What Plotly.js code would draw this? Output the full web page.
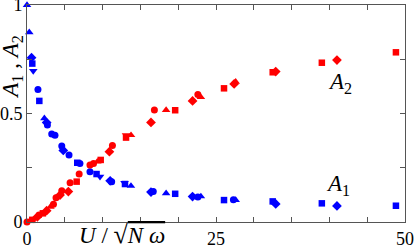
<!DOCTYPE html>
<html>
<head>
<meta charset="utf-8">
<script src="https://cdn.plot.ly/plotly-3.0.1.min.js"></script>
<style>html,body{margin:0;padding:0;background:#fff;}#chart{width:415px;height:248px;}</style>
</head>
<body>
<div id="chart"></div>
<script>
// A1 (blue) data, per marker set
const a1CircU = [1.45, 2.7, 3.27, 3.7, 4.6, 5.56, 7.0, 8.33, 11.2, 16.7, 22.6, 27.3];
const a1Circ  = [0.611, 0.447, 0.406, 0.400, 0.350, 0.309, 0.270, 0.232, 0.186, 0.140, 0.115, 0.102];
const a1SqU   = [0.7, 1.63, 6.65, 9.2, 12.96, 19.6, 26.06, 32.5, 39.0, 48.8];
const a1Sq    = [0.730, 0.558, 0.273, 0.221, 0.175, 0.130, 0.101, 0.095, 0.086, 0.075];
const a1TriU  = [0.0, 0.3, 2.3, 13.75, 18.4, 23.0, 27.6];
const a1Tri   = [1.000, 0.874, 0.478, 0.166, 0.132, 0.118, 0.101];
const a1DiaU  = [0.6, 2.6, 4.8, 11.0, 16.4, 21.9, 32.9, 41.0];
const a1Dia   = [0.757, 0.458, 0.330, 0.190, 0.138, 0.117, 0.083, 0.074];
const a1InvU  = [0.83, 9.66, 12.9];
const a1Inv   = [0.696, 0.209, 0.180];

// A2 (red) data, per marker set
const a2CircU = [0.0, 1.6, 3.5, 3.84, 4.6, 5.7, 6.9, 8.33, 8.8, 11.3, 16.85, 22.6];
const a2Circ  = [0.0, 0.032, 0.082, 0.112, 0.144, 0.181, 0.221, 0.263, 0.270, 0.352, 0.516, 0.588];
const a2SqU   = [0.7, 2.1, 6.57, 9.75, 13.1, 19.6, 26.06, 32.5, 39.0, 48.8];
const a2Sq    = [0.010, 0.040, 0.186, 0.286, 0.389, 0.515, 0.616, 0.690, 0.734, 0.782];
const a2TriU  = [0.4, 3.1, 9.3, 13.76, 18.4, 23.0, 27.6];
const a2Tri   = [0.006, 0.070, 0.278, 0.400, 0.516, 0.575, 0.646];
const a2DiaU  = [1.37, 2.6, 4.37, 5.47, 10.9, 16.4, 21.9, 27.4, 32.9, 41.0];
const a2Dia   = [0.024, 0.052, 0.124, 0.140, 0.324, 0.459, 0.558, 0.636, 0.693, 0.746];
const a2InvU  = [0.9, 13.1];
const a2Inv   = [0.012, 0.400];

const xTickVals = [0, 5, 10, 15, 20, 25, 30, 35, 40, 45, 50];
const xTickText = ['0', '', '', '', '', '25', '', '', '', '', '50'];
const yTickVals = [0, 0.25, 0.5, 0.75, 1];
const yTickText = ['0', '', '0.5', '', '1'];

const BLUE = '#0000ff', RED = '#ff0000';
function tr(x, y, color, symbol, size) {
  return {x: x, y: y, type: 'scatter', mode: 'markers', hoverinfo: 'skip', cliponaxis: false,
    marker: {color: color, symbol: symbol, size: size, line: {width: 0}}};
}
const data = [
  tr(a1CircU, a1Circ, BLUE, 'circle', 7),
  tr(a1SqU, a1Sq, BLUE, 'square', 6.5),
  tr(a1TriU, a1Tri, BLUE, 'triangle-up', 7.5),
  tr(a1DiaU, a1Dia, BLUE, 'diamond', 7.5),
  tr(a1InvU, a1Inv, BLUE, 'triangle-down', 7.5),
  tr(a2CircU, a2Circ, RED, 'circle', 7),
  tr(a2SqU, a2Sq, RED, 'square', 6.5),
  tr(a2TriU, a2Tri, RED, 'triangle-up', 7.5),
  tr(a2DiaU, a2Dia, RED, 'diamond', 7.5),
  tr(a2InvU, a2Inv, RED, 'triangle-down', 7.5)
];

const SERIF = 'Liberation Serif';
const axisCommon = {
  showgrid: false, zeroline: false, showline: true, linecolor: '#555', linewidth: 1,
  mirror: 'ticks', ticks: 'inside', ticklen: 5, tickcolor: '#555', tickwidth: 1,
  ticklabeloverflow: 'allow',
  tickmode: 'array', tickfont: {family: SERIF, size: 18, color: '#000'}
};
const layout = {
  width: 415, height: 248,
  margin: {l: 27, r: 10, t: 5, b: 26, pad: 0},
  paper_bgcolor: '#fff', plot_bgcolor: '#fff',
  showlegend: false,
  xaxis: Object.assign({}, axisCommon, {range: [0, 50], tickvals: xTickVals, ticktext: xTickText}),
  yaxis: Object.assign({}, axisCommon, {range: [0, 1], tickvals: yTickVals, ticktext: yTickText}),
  annotations: [
    {xref: 'x', yref: 'y', x: 41.4, y: 0.64, xanchor: 'center', yanchor: 'middle',
     text: '<i>A</i><sub>2</sub>', showarrow: false,
     font: {family: SERIF, size: 23, color: '#000'}},
    {xref: 'x', yref: 'y', x: 41.1, y: 0.17, xanchor: 'center', yanchor: 'middle',
     text: '<i>A</i><sub>1</sub>', showarrow: false,
     font: {family: SERIF, size: 23, color: '#000'}},
    {xref: 'paper', yref: 'paper', x: 0.25, y: -0.058, xanchor: 'center', yanchor: 'middle',
     text: "<i>U</i> / <span style='font-size:26px'>√</span><span style='text-decoration:overline'><i>N ω</i></span>",
     showarrow: false, font: {family: SERIF, size: 23, color: '#000'}},
    {xref: 'paper', yref: 'paper', x: -0.04, y: 0.715, xanchor: 'center', yanchor: 'middle', textangle: -90,
     text: '<i>A</i><sub>1</sub> , <i>A</i><sub>2</sub>', showarrow: false,
     font: {family: SERIF, size: 23, color: '#000'}}
  ]
};
Plotly.newPlot('chart', data, layout, {staticPlot: true, displayModeBar: false});
</script>
</body>
</html>
